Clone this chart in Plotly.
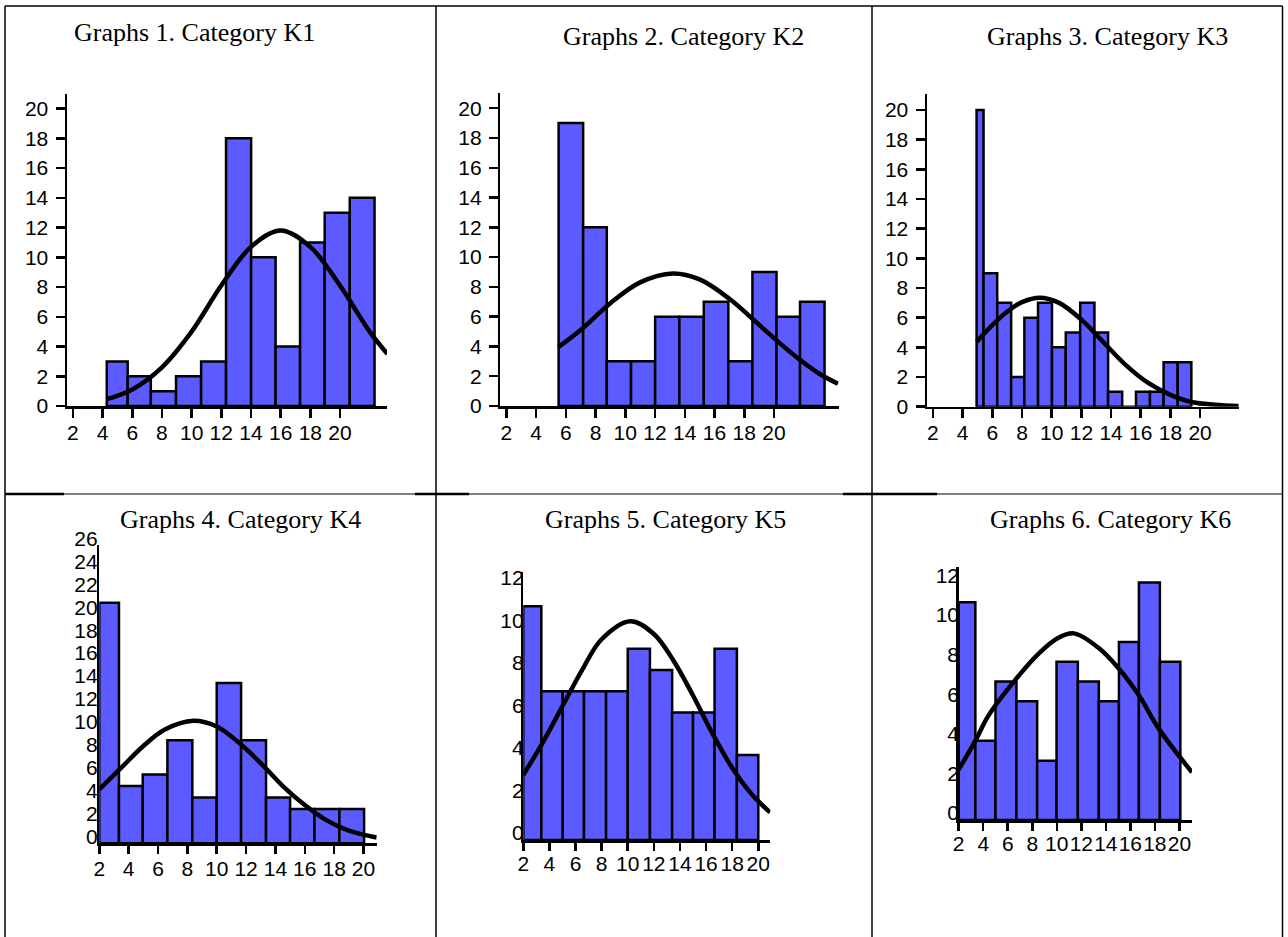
import plotly.graph_objects as go

W, H = 1288, 937

# ---------------- data ----------------
titles = ["Graphs 1. Category K1", "Graphs 2. Category K2", "Graphs 3. Category K3",
          "Graphs 4. Category K4", "Graphs 5. Category K5", "Graphs 6. Category K6"]

k1_edges = [4.28, 5.69, 7.25, 8.95, 10.64, 12.32, 14.01, 15.66, 17.31, 18.97, 20.66, 22.33]
k1_counts = [3, 2, 1, 2, 3, 18, 10, 4, 11, 13, 14]
k1_curve_x = [4.3, 6, 8, 10, 12, 14, 16, 18, 20, 22, 23.2]
k1_curve_y = [0.46, 1.11, 2.6, 5.0, 8.1, 10.7, 11.8, 10.7, 8.1, 5.0, 3.5]

k2_edges = [5.52, 7.17, 8.76, 10.39, 12.01, 13.64, 15.28, 16.93, 18.55, 20.17, 21.75, 23.40]
k2_counts = [19, 12, 3, 3, 6, 6, 7, 3, 9, 6, 7]
k2_curve_x = [5.5, 7, 9, 11, 13.2, 15, 17, 19, 21, 23, 24.3]
k2_curve_y = [3.95, 5.1, 6.9, 8.3, 8.9, 8.5, 7.2, 5.45, 3.7, 2.2, 1.5]

k3_edges = [4.94, 5.41, 6.33, 7.27, 8.16, 9.08, 10.02, 10.95, 11.92, 12.88, 13.80,
            14.75, 15.68, 16.62, 17.54, 18.49, 19.41]
k3_counts = [20, 9, 7, 2, 6, 7, 4, 5, 7, 5, 1, 0, 1, 1, 3, 3]
k3_curve_x = [4.95, 6, 7, 8, 9.2, 10.5, 12, 13.5, 15, 16.5, 18, 19.5, 21, 22.6]
k3_curve_y = [4.38, 5.5, 6.4, 7.05, 7.35, 7.0, 5.87, 4.33, 2.8, 1.6, 0.8, 0.3, 0.14, 0.05]

k4_edges = [2.0, 3.34, 4.96, 6.64, 8.34, 10.0, 11.66, 13.36, 15.0, 16.66, 18.36, 20.04]
k4_counts = [21, 5, 6, 9, 4, 14, 9, 4, 3, 3, 3]
k4_curve_x = [2, 3.5, 5, 6.5, 8.4, 10, 11.5, 13, 14.5, 16, 17.5, 19, 20.9]
k4_curve_y = [4.7, 6.6, 8.5, 9.95, 10.7, 10.2, 8.8, 7.0, 5.0, 3.35, 2.0, 1.1, 0.5]

k5_edges = [2.0, 3.38, 5.02, 6.65, 8.34, 10.0, 11.7, 13.4, 15.0, 16.65, 18.36, 20.0]
k5_counts = [11, 7, 7, 7, 7, 9, 8, 6, 6, 9, 4]
k5_curve_x = [2, 3.5, 5, 6.5, 8, 10.2, 12, 13.5, 15, 16.5, 18, 19.5, 20.9]
k5_curve_y = [3.06, 4.6, 6.3, 8.0, 9.45, 10.3, 9.7, 8.45, 6.8, 5.0, 3.4, 2.15, 1.3]

k6_edges = [2.0, 3.36, 5.0, 6.71, 8.4, 9.98, 11.72, 13.43, 15.07, 16.7, 18.41, 20.08]
k6_counts = [11, 4, 7, 6, 3, 8, 7, 6, 9, 12, 8]
k6_curve_x = [2, 3.35, 4.45, 6.6, 8.5, 10.1, 11.4, 13.4, 15.05, 16.7, 18.3, 21.03]
k6_curve_y = [2.55, 4.0, 5.3, 7.07, 8.4, 9.2, 9.43, 8.7, 7.66, 6.3, 4.63, 2.41]

x_ticks = [2, 4, 6, 8, 10, 12, 14, 16, 18, 20]
y_ticks_20 = [0, 2, 4, 6, 8, 10, 12, 14, 16, 18, 20]
y_ticks_26 = [0, 2, 4, 6, 8, 10, 12, 14, 16, 18, 20, 22, 24, 26]
y_ticks_12 = [0, 2, 4, 6, 8, 10, 12]

panels_data = [
    (k1_edges, k1_counts, k1_curve_x, k1_curve_y, y_ticks_20),
    (k2_edges, k2_counts, k2_curve_x, k2_curve_y, y_ticks_20),
    (k3_edges, k3_counts, k3_curve_x, k3_curve_y, y_ticks_20),
    (k4_edges, k4_counts, k4_curve_x, k4_curve_y, y_ticks_26),
    (k5_edges, k5_counts, k5_curve_x, k5_curve_y, y_ticks_12),
    (k6_edges, k6_counts, k6_curve_x, k6_curve_y, y_ticks_12),
]

# ---------------- layout (pixel geometry) ----------------
# (left, right, top, bottom) of plot area in px, x range, y range, x-label standoff
geom = [
    (67.0, 387.0, 94.3, 406.0, [1.6, 23.17], [0, 20.96], -3),
    (500.3, 838.7, 93.3, 406.0, [1.6, 24.35], [0, 21.0], -3),
    (927.0, 1238.7, 94.3, 406.7, [1.6, 22.6], [0, 21.06], -3),
    (99.3, 376.7, 545.0, 843.3, [2.0, 20.9], [0, 26.05], -3),
    (523.3, 770.3, 571.7, 840.0, [2.0, 20.92], [0, 12.63], -5),
    (958.7, 1192.0, 566.7, 820.0, [2.0, 21.03], [0, 12.8], -5),
]
title_pos = [(194, 32), (683, 37), (1107, 36), (240, 519), (666, 519), (1110, 519)]

BAR_COLOR = "#5B5BFF"
TICK_FONT = dict(family="Liberation Sans, Arial, sans-serif", size=21, color="black")
TITLE_FONT = dict(family="Liberation Serif, Times New Roman, serif", size=26, color="black")

fig = go.Figure()
layout = dict(width=W, height=H, autosize=False,
              margin=dict(l=0, r=0, t=0, b=0, pad=0, autoexpand=False),
              paper_bgcolor="white", plot_bgcolor="rgba(0,0,0,0)",
              showlegend=False, annotations=[], shapes=[])

for i, ((edges, counts, cx, cy, yt), (l, r, t, b, xr, yr, xso)) in enumerate(zip(panels_data, geom)):
    n = i + 1
    xa = "x" if n == 1 else f"x{n}"
    ya = "y" if n == 1 else f"y{n}"
    centers = [(edges[j] + edges[j + 1]) / 2 for j in range(len(counts))]
    widths = [edges[j + 1] - edges[j] for j in range(len(counts))]
    fig.add_trace(go.Bar(x=centers, y=counts, width=widths, xaxis=xa, yaxis=ya,
                         marker=dict(color=BAR_COLOR, line=dict(color="black", width=2.5)),
                         hoverinfo="skip"))
    fig.add_trace(go.Scatter(x=cx, y=cy, xaxis=xa, yaxis=ya, mode="lines",
                             line=dict(color="black", width=4.5, shape="spline", smoothing=1.0),
                             hoverinfo="skip"))
    top_row = n <= 3
    xkey = "xaxis" if n == 1 else f"xaxis{n}"
    ykey = "yaxis" if n == 1 else f"yaxis{n}"
    layout[xkey] = dict(domain=[l / W, r / W], range=xr, anchor=ya, automargin=False,
                        tickmode="array", tickvals=x_ticks, tickangle=0,
                        showgrid=False, zeroline=False, showline=True,
                        linecolor="black", linewidth=2.5,
                        ticks="outside", ticklen=9 if top_row else 8, tickwidth=2.5,
                        tickcolor="black", tickfont=TICK_FONT,
                        ticklabelstandoff=xso)
    ydict = dict(domain=[1 - b / H, 1 - t / H], range=yr, anchor=xa, automargin=False,
                 tickmode="array", tickvals=yt,
                 showgrid=False, zeroline=False, showline=True,
                 linecolor="black", linewidth=2.5, tickfont=TICK_FONT)
    if top_row:
        ydict.update(ticks="outside", ticklen=9, tickwidth=2.5, tickcolor="black",
                     ticklabelstandoff=3)
    else:
        ydict.update(ticks="", ticklabelshift=-7,
                     ticklabelstandoff=-5 if n == 4 else -7)
    layout[ykey] = ydict
    tx, ty = title_pos[i]
    layout["annotations"].append(dict(text=titles[i], x=tx / W, y=1 - ty / H,
                                      xref="paper", yref="paper", showarrow=False,
                                      xanchor="center", yanchor="middle", font=TITLE_FONT))

# table borders
def hline(y, x0, x1, w=1.5):
    return dict(type="line", xref="paper", yref="paper", x0=x0 / W, x1=x1 / W,
                y0=1 - y / H, y1=1 - y / H, line=dict(color="black", width=w))

def vline(x, y0, y1, w=1.5):
    return dict(type="line", xref="paper", yref="paper", x0=x / W, x1=x / W,
                y0=1 - y0 / H, y1=1 - y1 / H, line=dict(color="black", width=w))

layout["shapes"] += [
    hline(6, 5, 1282.5), vline(5, 6, 937), vline(1282.5, 6, 937),
    vline(436, 6, 937), vline(872, 6, 937),
    hline(494, 5, 1282.5, 1.2),
    hline(494, 5, 64, 2.5), hline(494, 415, 469, 2.5), hline(494, 843, 937, 2.5),
]

fig.update_layout(**layout)
fig.write_html("out.html",
               config={"displayModeBar": False, "staticPlot": True},
               post_script="document.body.style.margin='0';document.body.style.padding='0';"
                           "document.body.style.overflow='hidden';")
